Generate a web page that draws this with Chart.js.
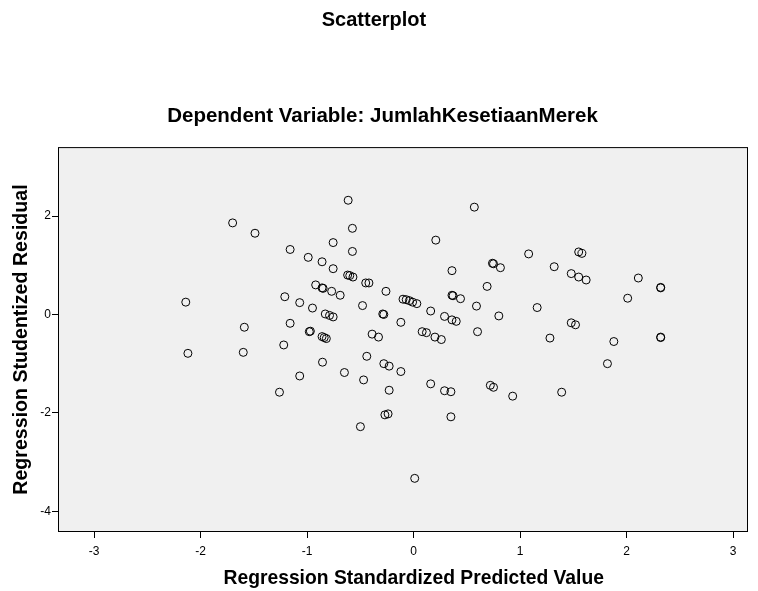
<!DOCTYPE html>
<html>
<head>
<meta charset="utf-8">
<script src="https://cdn.jsdelivr.net/npm/chart.js@4/dist/chart.umd.min.js"></script>
<style>
    html, body { margin: 0; padding: 0; background: #fff; }
    #chart { display: block; }
</style>
</head>
<body>
<canvas id="chart" width="758" height="591"></canvas>
<script>
// Values
const PREDICTED = [
    -1.70, -1.49, -1.16, -0.99, -0.86, -2.14, -1.21, -1.07, -0.95, -0.92,
    -1.59, -1.16, -0.98, -0.97, -2.12, -1.60, -1.22, -1.07, -1.26,
    -0.615, -0.575, -0.756, -0.575, 0.208, -0.756, -0.62, -0.60, -0.57,
    -0.45, -0.42, 0.36, -0.86, -0.85, -0.77, -0.69, -0.26, 0.36, 0.37, 0.44,
    -0.10, -0.07, -0.04, -0.01, 0.03, -0.83, -0.79, -0.756, -0.48,
    -0.29, -0.28, -0.12, 0.16, 0.29, 0.36, 0.40, 0.08, 0.12, 0.20, 0.26,
    -0.86, -0.84, -0.82, -0.39, -0.33, -0.856, -0.65, -0.47, -0.44,
    -0.28, -0.23, -0.12, -0.23, 0.16, 0.29, 0.35,
    0.57, 1.08, 1.55, 1.58, 0.74, 0.75, 0.815, 1.32, 1.48, 1.55, 1.62,
    0.69, 0.59, 0.80, 1.16, 0.60, 1.48, 1.52, 1.28, 1.88, 1.82, 0.72, 0.75,
    0.93, 1.39,
    2.11, 2.01, 2.32, 2.32, 2.32, 2.32,
    -0.27, -0.24, 0.35, -0.50, 0.01,
];

const RESIDUAL = [
    1.86, 1.65, 1.32, 1.16, 1.07, 0.25, 0.36, 0.24, 0.13, 0.60,
    -0.26, -0.18, -0.35, -0.34, -0.79, -0.77, -0.62, -1.25, -1.58,
    2.32, 1.75, 1.46, 1.28, 1.51, 0.93, 0.80, 0.79, 0.76,
    0.64, 0.64, 0.89, 0.54, 0.53, 0.47, 0.39, 0.47, 0.39, 0.38, 0.32,
    0.31, 0.30, 0.28, 0.25, 0.22, 0.01, -0.02, -0.05, 0.18,
    0.01, 0.00, -0.16, 0.07, -0.04, -0.11, -0.14, -0.35, -0.37, -0.46, -0.51,
    -0.45, -0.47, -0.49, -0.40, -0.46, -0.97, -1.18, -1.33, -0.85,
    -1.00, -1.05, -1.16, -1.54, -1.41, -1.55, -1.57,
    2.18, 1.23, 1.27, 1.24, 1.04, 1.03, 0.95, 0.97, 0.83, 0.76, 0.70,
    0.57, 0.17, -0.03, 0.14, -0.35, -0.17, -0.21, -0.48, -0.55, -1.00, -1.44, -1.48,
    -1.66, -1.58,
    0.74, 0.33, 0.55, 0.54, -0.46, -0.47,
    -2.04, -2.02, -2.08, -2.28, -3.33,
];

const X_TICKS = [-3, -2, -1, 0, 1, 2, 3];
const Y_TICKS = [-4, -2, 0, 2];

const FONT_FAMILY = '"Liberation Sans", Arial, sans-serif';

const plotFrame = {
    id: 'plotFrame',
    beforeDraw(chart) {
        const { ctx, chartArea: a } = chart;
        ctx.save();
        ctx.fillStyle = '#f0f0f0';
        ctx.fillRect(a.left, a.top, a.right - a.left, a.bottom - a.top);
        ctx.restore();
    },
    afterDatasetsDraw(chart) {
        const { ctx, chartArea: a } = chart;
        ctx.save();
        ctx.strokeStyle = '#000';
        ctx.lineWidth = 1;
        ctx.strokeRect(a.left + 0.5, a.top + 0.5, a.right - a.left - 1, a.bottom - a.top - 1);
        ctx.restore();
    },
};

const points = PREDICTED.map((x, i) => ({ x, y: RESIDUAL[i] }));

new Chart(document.getElementById('chart'), {
    type: 'scatter',
    data: {
        datasets: [{
            data: points,
            pointStyle: 'circle',
            pointRadius: 4,
            pointHoverRadius: 4,
            borderWidth: 1,
            borderColor: '#000',
            backgroundColor: 'rgba(0,0,0,0)',
        }],
    },
    options: {
        responsive: false,
        animation: false,
        events: [],
        layout: {
            padding: { top: 0, right: 10, bottom: 0, left: 0 },
        },
        plugins: {
            legend: { display: false },
            tooltip: { enabled: false },
            title: {
                display: true,
                text: 'Scatterplot',
                color: '#000',
                font: { family: FONT_FAMILY, size: 20, weight: 'bold' },
                padding: { top: 8, bottom: 69 },
            },
            subtitle: {
                display: true,
                // leading spaces nudge the centre right, as in the SPSS output
                text: '   Dependent Variable: JumlahKesetiaanMerek',
                color: '#000',
                font: { family: FONT_FAMILY, size: 20.5, weight: 'bold' },
                padding: { top: 3, bottom: 18.5 },
            },
        },
        scales: {
            x: {
                type: 'linear',
                min: -3.34,
                max: 3.14,
                afterBuildTicks(scale) {
                    scale.ticks = X_TICKS.map((value) => ({ value }));
                },
                afterFit(scale) {
                    scale.height = 59;
                },
                grid: {
                    drawOnChartArea: false,
                    drawTicks: true,
                    tickLength: 6,
                    tickColor: '#000',
                },
                border: { display: false },
                ticks: {
                    color: '#000',
                    padding: 6,
                    font: { family: FONT_FAMILY, size: 12 },
                    maxRotation: 0,
                },
                title: {
                    display: true,
                    text: '    Regression Standardized Predicted Value',
                    color: '#000',
                    font: { family: FONT_FAMILY, size: 19.3, weight: 'bold' },
                    padding: { top: 0, bottom: 0.5 },
                },
            },
            y: {
                type: 'linear',
                min: -4.42,
                max: 3.40,
                afterBuildTicks(scale) {
                    scale.ticks = Y_TICKS.map((value) => ({ value }));
                },
                afterFit(scale) {
                    scale.width = 58;
                },
                grid: {
                    drawOnChartArea: false,
                    drawTicks: true,
                    tickLength: 6,
                    tickColor: '#000',
                },
                border: { display: false },
                ticks: {
                    color: '#000',
                    padding: 1,
                    font: { family: FONT_FAMILY, size: 12 },
                },
                title: {
                    display: true,
                    text: 'Regression Studentized Residual',
                    color: '#000',
                    font: { family: FONT_FAMILY, size: 19.6, weight: 'bold' },
                    padding: { top: 10.3, bottom: 0 },
                },
            },
        },
    },
    plugins: [plotFrame],
});
</script>
</body>
</html>
